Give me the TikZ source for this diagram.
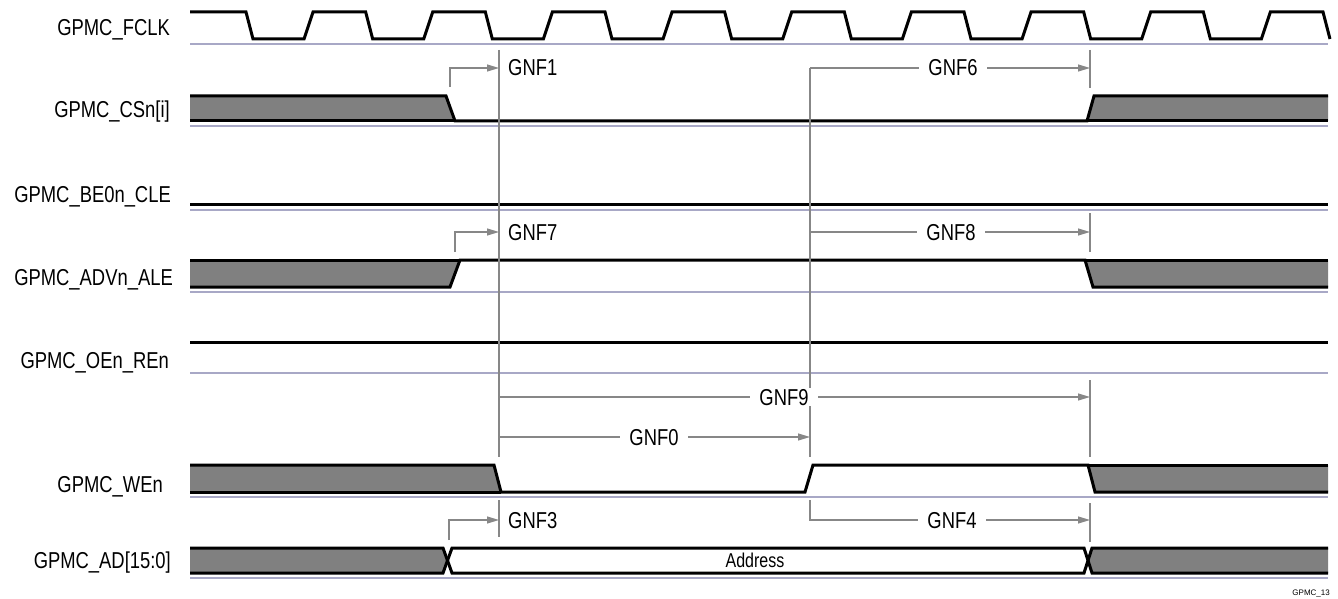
\documentclass[tikz,border=0pt]{standalone}
\usepackage{fontspec}
\setmainfont{Liberation Sans}
\newfontfamily\lbl[FakeStretch=0.8]{Liberation Sans}
\usetikzlibrary{arrows.meta}
\definecolor{basec}{RGB}{168,168,198}
\definecolor{dimc}{RGB}{135,135,135}
\definecolor{fillc}{RGB}{128,128,128}
\begin{document}
\begin{tikzpicture}[x=1pt,y=-1pt,
  sig/.style={line width=3pt,black},
  baseline/.style={line width=1.5pt,basec},
  vline/.style={line width=1.1pt,dimc},
  dimarrow/.style={line width=1.1pt,dimc,-{Triangle[length=12pt,width=7pt]}},
  siglbl/.style={font=\lbl\fontsize{23}{25}\selectfont,anchor=base east,inner sep=0pt},
  dimlbl/.style={font=\lbl\fontsize{23}{25}\selectfont,anchor=base,fill=white,inner xsep=9pt,inner ysep=1pt},
  dimlblL/.style={font=\lbl\fontsize{23}{25}\selectfont,anchor=base west,inner sep=0pt}]
\useasboundingbox (0,0) rectangle (1338,599);

% signal names
\node[siglbl] (nclk) at (170,36) {GPMC\_FCLK};
\node[siglbl] (ncs)  at (170,118) {GPMC\_CSn[i]};
\node[siglbl] (nbe)  at (171,202) {GPMC\_BE0n\_CLE};
\node[siglbl] (nadv) at (173,285) {GPMC\_ADVn\_ALE};
\node[siglbl] (noe)  at (169,368) {GPMC\_OEn\_REn};
\node[siglbl] (nwe)  at (163,492) {GPMC\_WEn};
\node[siglbl] (nad)  at (171,568) {GPMC\_AD[15:0]};

% baselines
\foreach \yy in {44,126,210,292,373,497,578}
  \draw[baseline] (190,\yy) -- (1328,\yy);

% clock
\draw[sig] (190,12) \foreach \k in {0,...,8} {
   -- ({246+119.67*\k},12) -- ({253+119.67*\k},39)
   -- ({304+119.67*\k},39) -- ({313+119.67*\k},12) }
   -- (1323,12) -- (1330,39);

% CSn
\fill[fillc] (190,96) -- (446,96) -- (455,121) -- (190,121) -- cycle;
\fill[fillc] (1087,121) -- (1094,96) -- (1328,96) -- (1328,121) -- cycle;
\draw[sig] (190,96) -- (446,96) -- (455,121) -- (1087,121) -- (1094,96) -- (1328,96);
\draw[sig] (190,121) -- (455,121);
\draw[sig] (1087,121) -- (1328,121);

% BE0n
\draw[sig] (190,204) -- (1328,204);

% ADVn
\fill[fillc] (190,260) -- (460,260) -- (450,287) -- (190,287) -- cycle;
\fill[fillc] (1085,260) -- (1328,260) -- (1328,287) -- (1093,287) -- cycle;
\draw[sig] (190,287) -- (450,287) -- (460,260) -- (1085,260) -- (1093,287) -- (1328,287);
\draw[sig] (190,260) -- (460,260);
\draw[sig] (1085,260) -- (1328,260);

% OEn
\draw[sig] (190,342) -- (1328,342);

% WEn
\fill[fillc] (190,465) -- (494,465) -- (501,492) -- (190,492) -- cycle;
\fill[fillc] (1088,465) -- (1328,465) -- (1328,492) -- (1095,492) -- cycle;
\draw[sig] (190,465) -- (494,465) -- (501,492) -- (805,492) -- (813,465) -- (1088,465) -- (1095,492) -- (1328,492);
\draw[sig] (190,492) -- (501,492);
\draw[sig] (1088,465) -- (1328,465);

% AD bus
\fill[fillc] (190,548) -- (443,548) -- (447.5,560.5) -- (443,573) -- (190,573) -- cycle;
\fill[fillc] (1092,548) -- (1328,548) -- (1328,573) -- (1092,573) -- (1088,560.5) -- cycle;
\draw[sig] (190,548) -- (443,548) -- (452,573) -- (1084,573) -- (1092,548) -- (1328,548);
\draw[sig] (190,573) -- (443,573) -- (452,548) -- (1084,548) -- (1092,573) -- (1328,573);
\node[font=\lbl\fontsize{20}{22}\selectfont,anchor=base,inner sep=0pt] (addr) at (755,567) {Address};

% reference lines
\coordinate (t0) at (499,50);  \coordinate (b0) at (499,457);
\coordinate (t1) at (810,68);  \coordinate (b1) at (810,457);
\draw[vline] (t0) -- (b0);
\draw[vline] (499,500) -- (499,537);
\draw[vline] (t1) -- (b1);
\draw[vline] (1090,50) -- (1090,88);
\draw[vline] (1090,213) -- (1090,252);
\draw[vline] (1090,380) -- (1090,457);
\draw[vline] (1090,503) -- (1090,542);

% timing arrows
\draw[dimarrow] (450,87) |- (499,68);
\node[dimlblL] (g1) at (508,76) {GNF1};
\draw[dimarrow] (455,252) |- (499,232);
\node[dimlblL] (g7) at (508,240) {GNF7};
\draw[dimarrow] (449,540) |- (499,520);
\node[dimlblL] (g3) at (508,528) {GNF3};

\draw[dimarrow] (810,68) -- (1090,68);
\node[dimlbl] (g6) at (953,76) {GNF6};
\draw[dimarrow] (810,232) -- (1090,232);
\node[dimlbl] (g8) at (951,240) {GNF8};
\draw[dimarrow] (499,397) -- (1090,397);
\node[dimlbl] (g9) at (784,405) {GNF9};
\draw[dimarrow] (499,437) -- (810,437);
\node[dimlbl] (g0) at (654,445) {GNF0};
\draw[dimarrow] (810,500) |- (1090,520);
\node[dimlbl] (g4) at (952,528) {GNF4};

\node[font=\fontsize{8}{9}\selectfont,anchor=base east,inner sep=0pt] (fig) at (1330,595) {GPMC\_13};
\end{tikzpicture}
\end{document}
